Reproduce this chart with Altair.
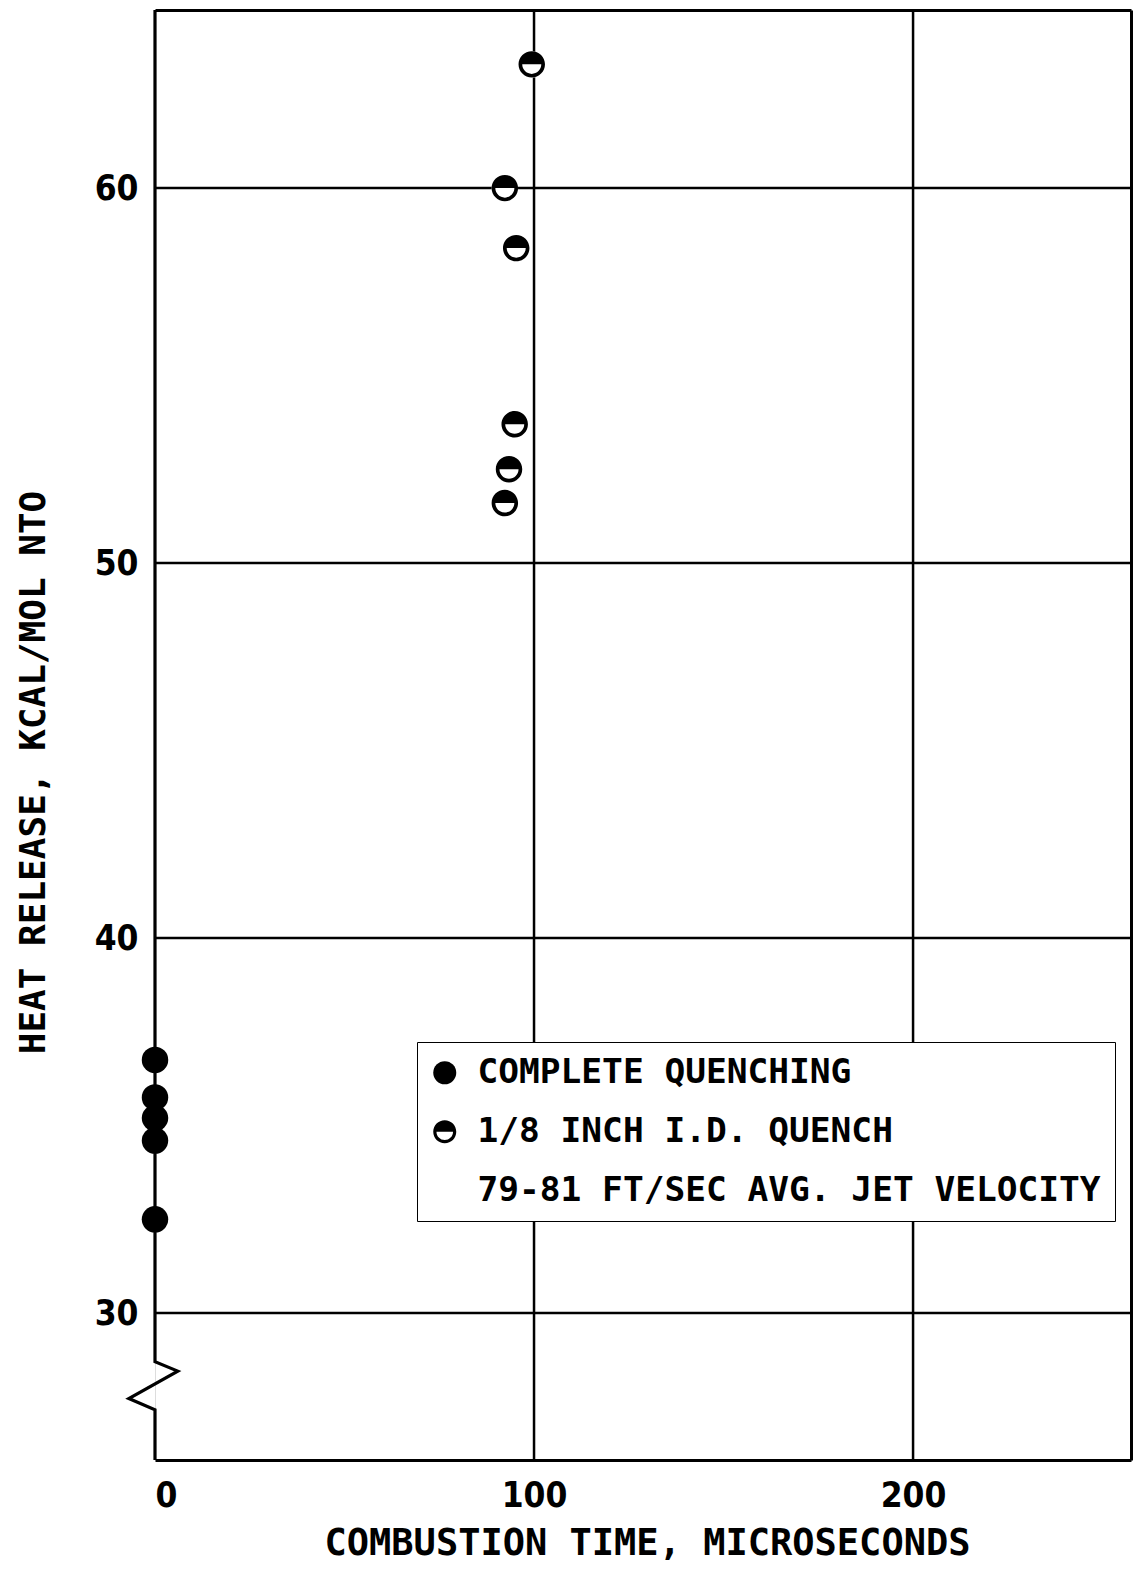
import altair as alt
import pandas as pd

# ---- data ----
complete_x = [0, 0, 0, 0, 0]
complete_y = [36.75, 35.75, 35.2, 34.6, 32.5]
quench_x = [99.4, 92.3, 95.3, 94.9, 93.4, 92.3]
quench_y = [63.3, 60.0, 58.4, 53.7, 52.5, 51.6]

series_names = ["COMPLETE QUENCHING", "1/8 INCH I.D. QUENCH", "79-81 FT/SEC AVG. JET VELOCITY"]

x_ticks = [0, 100, 200]
y_ticks = [30, 40, 50, 60]
x_grid = [100, 200]
y_grid = [30, 40, 50, 60]
x_domain = [0, 257.5]
y_domain = [26.08, 64.75]

# left axis with scale-break zigzag (data units)
break_x = [0, 0, 6.0, -6.9, 0, 0]
break_y = [64.75, 28.7, 28.45, 27.72, 27.42, 26.08]

MONO = "DejaVu Sans Mono, Liberation Mono, monospace"
COND = "DejaVu Sans Condensed, DejaVu Sans, Liberation Sans"
HALF = ("M -1 0 A 1 1 0 0 1 1 0 A 1 1 0 0 1 -1 0 Z "
        "M -0.72 0 A 0.72 0.72 0 0 0 0.72 0 Z")

pts = pd.DataFrame({
    "x": complete_x + quench_x,
    "y": complete_y + quench_y,
    "series": [series_names[0]] * len(complete_x) + [series_names[1]] * len(quench_x),
})
quench = pd.DataFrame({"x": quench_x, "y": quench_y})
brk = pd.DataFrame({"x": break_x, "y": break_y, "i": list(range(len(break_x)))})

xs = alt.Scale(domain=x_domain, nice=False, zero=False)
ys = alt.Scale(domain=y_domain, nice=False, zero=False)

grid_v = alt.Chart(pd.DataFrame({"x": x_grid})).mark_rule(color="black", strokeWidth=2.5).encode(
    x=alt.X("x:Q", scale=xs, axis=None))
grid_h = alt.Chart(pd.DataFrame({"y": y_grid})).mark_rule(color="black", strokeWidth=2.5).encode(
    y=alt.Y("y:Q", scale=ys, axis=None))

axis_line = alt.Chart(brk).mark_line(color="black", strokeWidth=3.2, strokeJoin="miter").encode(
    x=alt.X("x:Q", scale=xs, axis=None),
    y=alt.Y("y:Q", scale=ys, axis=None),
    order="i:O")

white = alt.Chart(quench).mark_point(shape="circle", filled=True, color="white", opacity=1, size=700).encode(
    x=alt.X("x:Q", scale=xs, axis=None),
    y=alt.Y("y:Q", scale=ys, axis=None))

frame = alt.Chart(pts).mark_point(opacity=0).encode(
    x=alt.X("x:Q", scale=xs, axis=alt.Axis(orient="top", labels=False, ticks=False, grid=False,
                                            domainColor="black", domainWidth=3, title=None)),
    y=alt.Y("y:Q", scale=ys, axis=alt.Axis(orient="right", labels=False, ticks=False, grid=False,
                                            domainColor="black", domainWidth=3, title=None)))

points = alt.Chart(pts).mark_point(filled=True, color="black", opacity=1, size=700, strokeWidth=0).encode(
    x=alt.X("x:Q", scale=xs, axis=alt.Axis(
        orient="bottom", values=x_ticks, grid=False, ticks=False, domain=True,
        domainColor="black", domainWidth=3.2,
        labelFont=COND, labelFontSize=35, labelFontWeight="bold", labelColor="black",
        labelPadding=18,
        title="COMBUSTION TIME, MICROSECONDS", titleFont=MONO, titleFontSize=37,
        titleFontWeight="bold", titleColor="black", titleX=492, titleY=83,
        titleBaseline="middle", titleAlign="center")),
    y=alt.Y("y:Q", scale=ys, axis=alt.Axis(
        orient="left", values=y_ticks, grid=False, ticks=False, domain=False,
        labelFont=COND, labelFontSize=35, labelFontWeight="bold", labelColor="black",
        labelPadding=17,
        title="HEAT RELEASE, KCAL/MOL NTO", titleFont=MONO, titleFontSize=36,
        titleFontWeight="bold", titleColor="black", titleX=-122, titleY=762,
        titleAngle=270, titleBaseline="middle", titleAlign="center")),
    shape=alt.Shape("series:N",
                    scale=alt.Scale(domain=series_names, range=["circle", HALF, "M 0 0"]),
                    legend=alt.Legend(
                        orient="none", legendX=262, legendY=1032, title=None,
                        padding=13.5, symbolOffset=-3, labelOffset=15.5, rowPadding=24,
                        symbolSize=529, symbolFillColor="black", symbolStrokeWidth=0,
                        symbolOpacity=1,
                        labelFont=MONO, labelFontSize=34.5, labelFontWeight="bold",
                        labelColor="black", labelLimit=2000,
                        fillColor="white", strokeColor="black")),
)

chart = alt.layer(grid_v, grid_h, axis_line, white, frame, points).resolve_axis(
    x="independent", y="independent"
).properties(
    width=976, height=1450,
    autosize=alt.AutoSizeParams(type="none"),
    padding={"left": 147, "top": 2, "right": 2, "bottom": 105},
).configure_view(stroke=None).configure_legend(strokeWidth=3).configure(background="white")

chart.save("out.html", embed_options={"renderer": "svg", "actions": False})
